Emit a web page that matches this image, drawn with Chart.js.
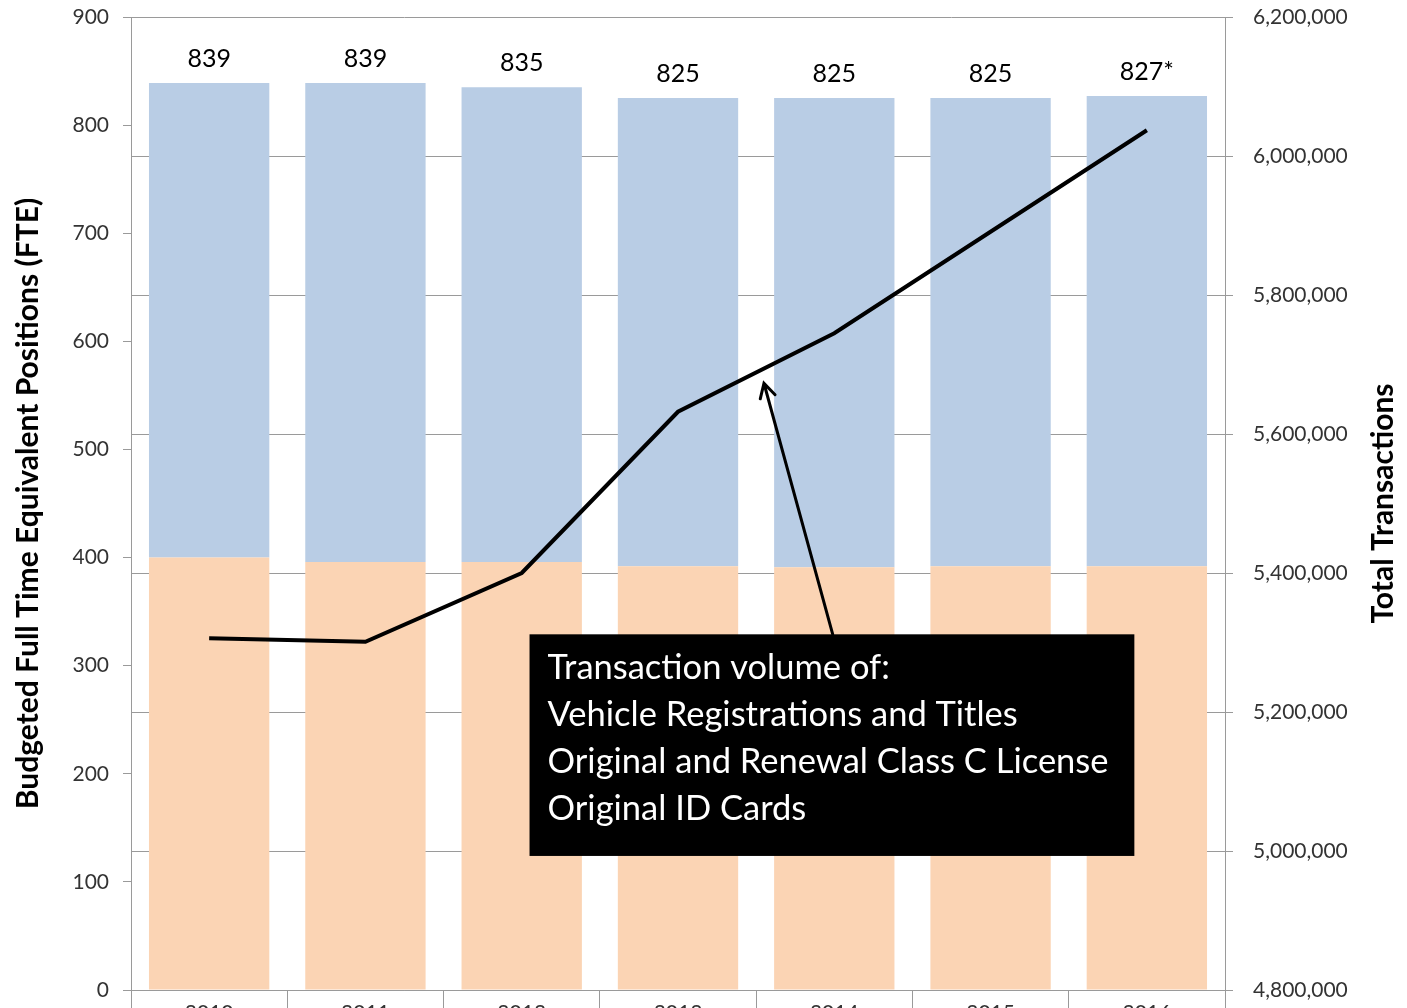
<!DOCTYPE html>
<html>
<head>
<meta charset="utf-8">
<script src="https://cdn.jsdelivr.net/npm/chart.js@4"></script>
<style>
  html, body { margin: 0; padding: 0; background: #fff; }
  #wrap { width: 1407px; height: 1008px; }
</style>
</head>
<body>
<div id="wrap"><canvas id="fte-graph" width="1407" height="1008"></canvas></div>
<script>
// * Data
const years = ["2010", "2011", "2012", "2013", "2014", "2015", "2016"];
const fteTotals = [839, 839, 835, 825, 825, 825, 827];
const fteLabels = ["839", "839", "835", "825", "825", "825", "827*"];
const fteLower = [400, 396, 396, 392, 391, 392, 392];
const transactions = [5306000, 5301000, 5400000, 5632000, 5745000, 5891000, 6037000];
const noteLines = [
  "Transaction volume of:",
  "Vehicle Registrations and Titles",
  "Original and Renewal Class C License",
  "Original ID Cards",
];
const leftTitle = "Budgeted Full Time Equivalent Positions (FTE)";
const rightTitle = "Total Transactions";

const fteUpper = fteTotals.map((t, i) => t - fteLower[i]);

const FONT = "Lato, 'Noto Sans', sans-serif";
const gridGray = "#9a9a9a";

// * Total labels above the bars
const totalLabels = {
  id: "totalLabels",
  afterDatasetsDraw(chart) {
    const ctx = chart.ctx;
    const x = chart.scales.x;
    const y = chart.scales.y;
    ctx.save();
    ctx.font = "25px " + FONT;
    ctx.fillStyle = "#000";
    ctx.textAlign = "center";
    ctx.textBaseline = "middle";
    fteTotals.forEach((t, i) => {
      ctx.fillText(fteLabels[i], x.getPixelForValue(i), y.getPixelForValue(t) - 24);
    });
    ctx.restore();
  },
};

// * Axis titles (both read bottom to top)
const axisTitles = {
  id: "axisTitles",
  afterDraw(chart) {
    const ctx = chart.ctx;
    const area = chart.chartArea;
    const mid = (area.top + area.bottom) / 2;
    ctx.save();
    ctx.fillStyle = "#000";
    ctx.font = "bold 30px " + FONT;
    ctx.textAlign = "center";
    ctx.textBaseline = "middle";
    [[28, leftTitle], [1383, rightTitle]].forEach(([cx, txt]) => {
      ctx.save();
      ctx.translate(cx, mid);
      ctx.rotate(-Math.PI / 2);
      ctx.fillText(txt, 0, 0);
      ctx.restore();
    });
    ctx.restore();
  },
};

// * Callout box + arrow
const callout = {
  id: "callout",
  afterDraw(chart) {
    const ctx = chart.ctx;
    const x = chart.scales.x;
    const y = chart.scales.y;
    const y1 = chart.scales.y1;

    const left = x.getPixelForValue(2.05);
    const right = x.getPixelForValue(5.92);
    const top = y.getPixelForValue(329);
    const bottom = y.getPixelForValue(124);

    ctx.save();
    // arrow
    const bx = x.getPixelForValue(3.99);
    const by = top;
    const tx = x.getPixelForValue(3.55);
    const ty = y1.getPixelForValue(5673000);
    ctx.strokeStyle = "#000";
    ctx.lineWidth = 3;
    ctx.lineCap = "round";
    ctx.beginPath();
    ctx.moveTo(bx, by);
    ctx.lineTo(tx, ty);
    const ang = Math.atan2(ty - by, tx - bx);
    const len = 16;
    ctx.moveTo(tx - len * Math.cos(ang - 0.5), ty - len * Math.sin(ang - 0.5));
    ctx.lineTo(tx, ty);
    ctx.lineTo(tx - len * Math.cos(ang + 0.5), ty - len * Math.sin(ang + 0.5));
    ctx.stroke();

    // box
    ctx.fillStyle = "#000";
    ctx.fillRect(left, top, right - left, bottom - top);
    ctx.fillStyle = "#fff";
    ctx.font = "34.5px " + FONT;
    ctx.textAlign = "left";
    ctx.textBaseline = "middle";
    noteLines.forEach((line, i) => {
      ctx.fillText(line, left + 18, top + 34 + i * 47);
    });
    ctx.restore();
  },
};

// strip the label overflow padding so the plot box sits where we want it
const noPad = (scale) => {
  scale.paddingTop = 0;
  scale.paddingBottom = 0;
  scale.paddingLeft = 0;
  scale.paddingRight = 0;
};

var fteCtx = document.getElementById("fte-graph").getContext("2d");

var fteChart = new Chart(fteCtx, {
  type: "bar",
  data: {
    labels: years,
    datasets: [
      {
        label: "Transactions",
        type: "line",
        data: transactions,
        yAxisID: "y1",
        borderColor: "#000",
        borderWidth: 4,
        pointRadius: 0,
        tension: 0,
        fill: false,
        order: 0,
      },
      {
        label: "FTE lower",
        data: fteLower,
        yAxisID: "y",
        backgroundColor: "#FBD4B4",
        borderWidth: 0,
        stack: "fte",
        order: 1,
      },
      {
        label: "FTE upper",
        data: fteUpper,
        yAxisID: "y",
        backgroundColor: "#B9CDE5",
        borderWidth: 0,
        stack: "fte",
        order: 1,
      },
    ],
  },
  options: {
    responsive: false,
    animation: false,
    layout: { padding: { top: 17, left: 0, right: 0, bottom: 0 } },
    plugins: {
      legend: { display: false },
      tooltip: { enabled: false },
    },
    datasets: {
      bar: { categoryPercentage: 1, barPercentage: 0.77 },
    },
    scales: {
      x: {
        stacked: true,
        offset: true,
        border: { color: gridGray, width: 1 },
        grid: {
          offset: true,
          drawOnChartArea: false,
          color: gridGray,
          tickLength: 30,
        },
        ticks: {
          color: "#333",
          font: { family: FONT, size: 21 },
          padding: -19,
        },
        afterFit(scale) {
          noPad(scale);
          scale.height = 18;
        },
      },
      y: {
        position: "left",
        stacked: true,
        min: 0,
        max: 900,
        border: { color: gridGray, width: 1 },
        grid: {
          drawOnChartArea: false,
          color: gridGray,
          tickLength: 8,
        },
        ticks: {
          stepSize: 100,
          color: "#333",
          font: { family: FONT, size: 21 },
          padding: 14,
        },
        afterFit(scale) {
          noPad(scale);
          scale.width = 131;
        },
      },
      y1: {
        position: "right",
        min: 4800000,
        max: 6200000,
        border: { color: gridGray, width: 1 },
        grid: {
          drawOnChartArea: true,
          color: gridGray,
          tickLength: 8,
        },
        ticks: {
          stepSize: 200000,
          color: "#333",
          font: { family: FONT, size: 21 },
          padding: 20,
          callback: (v) => v.toLocaleString("en-US"),
        },
        afterFit(scale) {
          noPad(scale);
          scale.width = 182;
        },
      },
    },
  },
  plugins: [totalLabels, callout, axisTitles],
});
</script>
</body>
</html>
